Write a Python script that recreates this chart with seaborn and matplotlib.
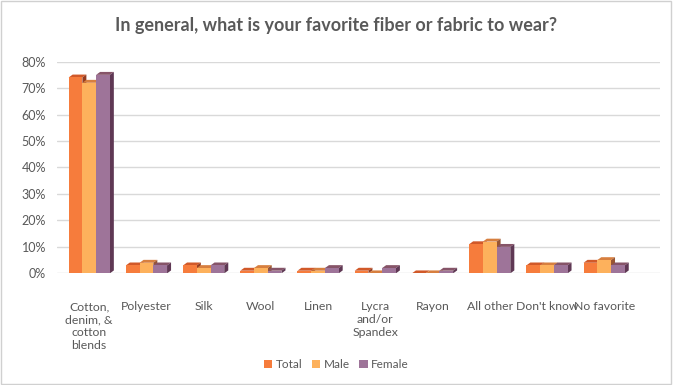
import matplotlib
matplotlib.use("Agg")
import matplotlib.pyplot as plt
from matplotlib.patches import Polygon, Rectangle
from matplotlib.colors import to_rgb
import seaborn as sns
import pandas as pd

categories = ["Cotton,\ndenim, &\ncotton\nblends", "Polyester", "Silk", "Wool", "Linen",
              "Lycra\nand/or\nSpandex", "Rayon", "All other", "Don't know", "No favorite"]
total = [74, 3, 3, 1, 1, 1, 0, 11, 3, 4]
male = [72, 4, 2, 2, 1, 0, 0, 12, 3, 5]
female = [75, 3, 3, 1, 2, 2, 1, 10, 3, 3]
series = ["Total", "Male", "Female"]
colors = ["#F67C3C", "#FDB15C", "#9E7499"]

rows = []
for name, vals in zip(series, [total, male, female]):
    for c, v in zip(categories, vals):
        rows.append((c, name, v / 100))
df = pd.DataFrame(rows, columns=["category", "group", "value"])

sns.set_style("white")
plt.rcParams['font.family'] = ['Lato', 'DejaVu Sans']
text_col = "#595959"

fig = plt.figure(figsize=(6.73, 3.85), dpi=100)
fig.patches.append(Rectangle((0.002, 0.003), 0.995, 0.994, transform=fig.transFigure,
                             fill=False, edgecolor="#D0D0D0", linewidth=1))
ax = fig.add_axes([0.085, 0.29, 0.896, 0.55])
sns.barplot(data=df, x="category", y="value", hue="group", palette=colors,
            width=0.72, dodge=True, ax=ax, saturation=1, legend=True, linewidth=0)

ax.set_ylim(0, 0.8)
ax.set_yticks([i / 10 for i in range(9)])
ax.set_yticklabels([f"{i * 10}%" for i in range(9)], color=text_col, fontsize=9)
ax.tick_params(axis="x", labelsize=8.8, labelcolor=text_col, length=0, pad=20)
ax.tick_params(axis="y", length=0, pad=8)
ax.yaxis.grid(True, color="#D9D9D9", linewidth=1)
ax.set_axisbelow(True)
for s in ax.spines.values():
    s.set_visible(False)
ax.set_xlabel("")
ax.set_ylabel("")

# fake 3D: darker top and side faces built from each bar's geometry,
# drawn behind the bars so the next bar in a group hides the side face
dx = 0.07
dy = 0.011
for bar in list(ax.patches):
    x0, w, h = bar.get_x(), bar.get_width(), bar.get_height()
    if w == 0:
        continue
    bar.set_zorder(2)
    r, g, b = to_rgb(bar.get_facecolor())
    top = (r * 0.85, g * 0.72, b * 0.68)
    side = (r * 0.6, g * 0.48, b * 0.55)
    ax.add_patch(Polygon([(x0, h), (x0 + dx, h + dy), (x0 + w + dx, h + dy), (x0 + w, h)],
                         closed=True, facecolor=top, edgecolor="none", zorder=1.5))
    ax.add_patch(Polygon([(x0 + w, 0), (x0 + w + dx, dy), (x0 + w + dx, h + dy), (x0 + w, h)],
                         closed=True, facecolor=side, edgecolor="none", zorder=1.5))
ax.set_xlim(-0.56, 9.98)

leg = ax.legend(loc="center", bbox_to_anchor=(0.5, 0.052), bbox_transform=fig.transFigure,
                ncol=3, frameon=False, fontsize=8.5, handlelength=0.7, handleheight=0.7,
                columnspacing=0.8, handletextpad=0.3)
for t in leg.get_texts():
    t.set_color(text_col)

fig.suptitle("In general, what is your favorite fiber or fabric to wear?", y=0.955,
             fontsize=13, color=text_col, fontweight="bold")

fig.savefig("out.png", dpi=100)
